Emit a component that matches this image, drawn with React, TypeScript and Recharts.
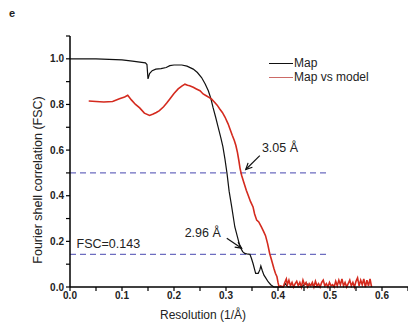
import { LineChart, Line, XAxis, YAxis, ReferenceLine, ReferenceDot } from "recharts";

// FSC curves
const mapRes = [
  0, 0.05, 0.1, 0.12, 0.145, 0.148, 0.15, 0.153, 0.158, 0.165, 0.175, 0.185, 0.192, 0.2, 0.215,
  0.225, 0.237, 0.245, 0.253, 0.26, 0.266, 0.271, 0.275, 0.28, 0.285, 0.29, 0.294, 0.298, 0.302,
  0.306, 0.311, 0.317, 0.322, 0.327, 0.332, 0.336, 0.34, 0.346, 0.349, 0.352, 0.357, 0.362, 0.365,
  0.367, 0.37, 0.373, 0.377, 0.381, 0.386, 0.392, 0.41, 0.414, 0.417, 0.42, 0.445, 0.45, 0.455,
  0.46, 0.465, 0.47, 0.48,
];
const mapFsc = [
  1.0, 1.0, 0.995, 0.99, 0.982, 0.975, 0.912, 0.935, 0.948, 0.955, 0.957, 0.962, 0.97, 0.973, 0.973,
  0.968, 0.955, 0.94, 0.918, 0.89, 0.86, 0.825, 0.787, 0.745, 0.7, 0.655, 0.615, 0.56, 0.497,
  0.42, 0.351, 0.263, 0.22, 0.176, 0.155, 0.147, 0.145, 0.143, 0.125, 0.103, 0.06, 0.06, 0.075,
  0.092, 0.07, 0.052, 0.038, 0.023, 0.01, 0, 0, 0.015, 0.005, 0, 0, 0.01, 0.015,
  0.008, 0.012, 0.003, 0,
];

const modelRes = [
  0.036, 0.05, 0.065, 0.082, 0.095, 0.105, 0.111, 0.118, 0.126, 0.134, 0.143, 0.153, 0.16, 0.166,
  0.172, 0.18, 0.186, 0.192, 0.2, 0.208, 0.215, 0.221, 0.226, 0.23, 0.237, 0.243, 0.25, 0.256,
  0.262, 0.268, 0.272, 0.278, 0.283, 0.288, 0.293, 0.298, 0.304, 0.308, 0.312, 0.316, 0.319, 0.322,
  0.325, 0.327, 0.33, 0.334, 0.339, 0.343, 0.347, 0.352, 0.355, 0.359, 0.363, 0.368, 0.372, 0.376,
  0.38, 0.384, 0.388, 0.392, 0.395, 0.398, 0.4, 0.402, 0.405, 0.41, 0.413, 0.416, 0.418, 0.421,
  0.424, 0.427, 0.43, 0.433, 0.436, 0.439, 0.442, 0.445, 0.448, 0.451, 0.454, 0.457, 0.46, 0.463,
  0.466, 0.469, 0.472, 0.475, 0.478, 0.481, 0.484, 0.487, 0.49, 0.493, 0.496, 0.499, 0.502, 0.505,
  0.508, 0.511, 0.514, 0.517, 0.52, 0.523, 0.526, 0.529, 0.532, 0.535, 0.538, 0.541, 0.544, 0.547,
  0.55, 0.553, 0.556, 0.559, 0.562, 0.565, 0.568, 0.571, 0.574, 0.577, 0.58,
];
const modelFsc = [
  0.815, 0.813, 0.811, 0.813, 0.825, 0.833, 0.84, 0.82, 0.8, 0.785, 0.762, 0.752, 0.758, 0.765,
  0.773, 0.79, 0.806, 0.824, 0.848, 0.868, 0.88, 0.889, 0.884, 0.882, 0.875, 0.868, 0.86, 0.846,
  0.838, 0.83, 0.824, 0.81, 0.797, 0.78, 0.765, 0.745, 0.715, 0.69, 0.665, 0.642, 0.62, 0.59,
  0.55, 0.52, 0.49, 0.46, 0.424, 0.4, 0.375, 0.351, 0.32, 0.293, 0.285, 0.263, 0.245, 0.225,
  0.19, 0.147, 0.115, 0.082, 0.06, 0.045, 0.02, 0, 0.005, 0, 0.02, 0.035, 0.01, 0.03,
  0.005, 0.02, 0, 0.015, 0.025, 0.005, 0.02, 0, 0.03, 0.01, 0.02, 0, 0.015, 0.005,
  0.02, 0, 0.025, 0.005, 0.015, 0, 0.02, 0.03, 0.005, 0.015, 0, 0.02, 0.005, 0.01,
  0, 0.025, 0.005, 0.03, 0.01, 0.035, 0.005, 0.02, 0, 0.015, 0.03, 0.005, 0.02, 0,
  0.025, 0.04, 0.005, 0.03, 0.01, 0.035, 0, 0.03, 0.005, 0.035, 0,
];

const xTicks = [0, 0.05, 0.1, 0.15, 0.2, 0.25, 0.3, 0.35, 0.4, 0.45, 0.5, 0.55, 0.6, 0.65];
const yTicks = [0, 0.1, 0.2, 0.3, 0.4, 0.5, 0.6, 0.7, 0.8, 0.9, 1.0, 1.1];

// dashed cut-offs: FSC level, drawn from x=0 to x=0.5
const cutoffs = [0.5, 0.143];
const cutoffEnd = 0.5;

// arrow annotations [label, tail x, tail y, head x, head y, text x, text y, anchor]
const arrows: [string, number, number, number, number, number, number, string][] = [
  ["3.05 Å", 0.365, 0.576, 0.338, 0.515, 0.369, 0.607, "start"],
  ["2.96 Å", 0.3015, 0.214, 0.33, 0.17, 0.29, 0.236, "end"],
];
const fscLabel = { text: "FSC=0.143", x: 0.0125, y: 0.188 };

const seriesNames = ["Map", "Map vs model"];
const seriesColors = ["#111", "#d42a1e"];
const legendSwatch = ["#111", "#cc6a66"];

const mapData = mapRes.map((r, i) => ({ res: r, fsc: mapFsc[i] }));
const modelData = modelRes.map((r, i) => ({ res: r, fsc: modelFsc[i] }));

const FONT = "'Liberation Sans', Arial, sans-serif";

const isTenth = (v: number) => Math.abs(v * 10 - Math.round(v * 10)) < 1e-6;

function Arrow(props: any) {
  const { x1, y1, x2, y2 } = props;
  const a = Math.atan2(y2 - y1, x2 - x1);
  const L = 7;
  const p1 = [x2 - L * Math.cos(a - 0.45), y2 - L * Math.sin(a - 0.45)];
  const p2 = [x2 - L * Math.cos(a + 0.45), y2 - L * Math.sin(a + 0.45)];
  return (
    <g stroke="#111" strokeWidth={1.2} fill="none">
      <line x1={x1} y1={y1} x2={x2} y2={y2} />
      <polyline points={`${p1[0]},${p1[1]} ${x2},${y2} ${p2[0]},${p2[1]}`} />
    </g>
  );
}

const textShape = (text: string, anchor: string) => (p: any) => (
  <text
    x={p.cx}
    y={p.cy}
    textAnchor={anchor}
    dominantBaseline="central"
    fontSize={12.5}
    fontFamily={FONT}
    fill="#222"
  >
    {text}
  </text>
);

function LegendBox() {
  return (
    <div style={{ position: "absolute", left: 269, top: 56, fontFamily: FONT }}>
      {seriesNames.map((name, i) => (
        <div key={name} style={{ display: "flex", alignItems: "center", height: 14 }}>
          <span style={{ display: "inline-block", width: 24, height: 0, borderTop: `1.4px solid ${legendSwatch[i]}`, marginRight: 1 }} />
          <span style={{ fontSize: 12, lineHeight: "14px", color: "#222", whiteSpace: "nowrap" }}>{name}</span>
        </div>
      ))}
    </div>
  );
}

export default function App() {
  return (
    <div style={{ position: "absolute", left: 0, top: 0, width: 408, height: 325, background: "#fff", fontFamily: FONT }}>
      <div style={{ position: "absolute", left: 9, top: 7, fontSize: 11, fontWeight: 700, color: "#222" }}>e</div>
      <LineChart width={408} height={325} margin={{ top: 36, right: 0, bottom: 0, left: 0 }}>
        <XAxis
          type="number"
          dataKey="res"
          domain={[0, 0.65]}
          ticks={xTicks}
          allowDataOverflow
          height={38}
          interval={0}
          tickSize={4}
          tickMargin={1}
          tickFormatter={(v: number) => (isTenth(v) ? v.toFixed(1) : "")}
          tick={{ fontSize: 10, fontWeight: 700, fill: "#222", fontFamily: FONT }}
          axisLine={{ stroke: "#000", strokeWidth: 1.5 }}
          tickLine={{ stroke: "#000", strokeWidth: 1.2 }}
          label={{
            content: (p: any) => (
              <text
                x={p.viewBox.x + 133}
                y={p.viewBox.y + 28}
                textAnchor="middle"
                dominantBaseline="central"
                fontSize={12}
                fontFamily={FONT}
                fill="#222"
              >
                Resolution (1/Å)
              </text>
            ),
          }}
        />
        <YAxis
          type="number"
          domain={[0, 1.1]}
          ticks={yTicks}
          width={70}
          interval={0}
          tickSize={4}
          tickMargin={2}
          tickFormatter={(v: number) => (Math.round(v * 10) % 2 === 0 && v < 1.05 ? v.toFixed(1) : "")}
          tick={{ fontSize: 10, fontWeight: 700, fill: "#222", fontFamily: FONT }}
          axisLine={{ stroke: "#000", strokeWidth: 1.5 }}
          tickLine={{ stroke: "#000", strokeWidth: 1.2 }}
          label={{
            content: (p: any) => (
              <text
                x={38}
                y={p.viewBox.y + 144}
                transform={`rotate(-90 38 ${p.viewBox.y + 144})`}
                textAnchor="middle"
                dominantBaseline="central"
                fontSize={12.5}
                fontFamily={FONT}
                fill="#222"
              >
                Fourier shell correlation (FSC)
              </text>
            ),
          }}
        />
        {cutoffs.map((c) => (
          <ReferenceLine
            key={c}
            segment={[
              { x: 0, y: c },
              { x: cutoffEnd, y: c },
            ]}
            stroke="#6c6cc0"
            strokeWidth={1.1}
            strokeDasharray="6 4"
          />
        ))}
        <Line
          data={mapData}
          dataKey="fsc"
          name={seriesNames[0]}
          type="linear"
          stroke={seriesColors[0]}
          strokeWidth={1.2}
          dot={false}
          isAnimationActive={false}
        />
        <Line
          data={modelData}
          dataKey="fsc"
          name={seriesNames[1]}
          type="linear"
          stroke={seriesColors[1]}
          strokeWidth={1.6}
          dot={false}
          isAnimationActive={false}
        />
        {arrows.map(([label, tx, ty, hx, hy]) => (
          <ReferenceLine
            key={"a" + label}
            segment={[
              { x: tx, y: ty },
              { x: hx, y: hy },
            ]}
            shape={Arrow}
          />
        ))}
        {arrows.map(([label, , , , , lx, ly, anchor]) => (
          <ReferenceDot key={"t" + label} x={lx} y={ly} r={0} shape={textShape(label, anchor)} />
        ))}
        <ReferenceDot x={fscLabel.x} y={fscLabel.y} r={0} shape={textShape(fscLabel.text, "start")} />
      </LineChart>
      <LegendBox />
    </div>
  );
}
